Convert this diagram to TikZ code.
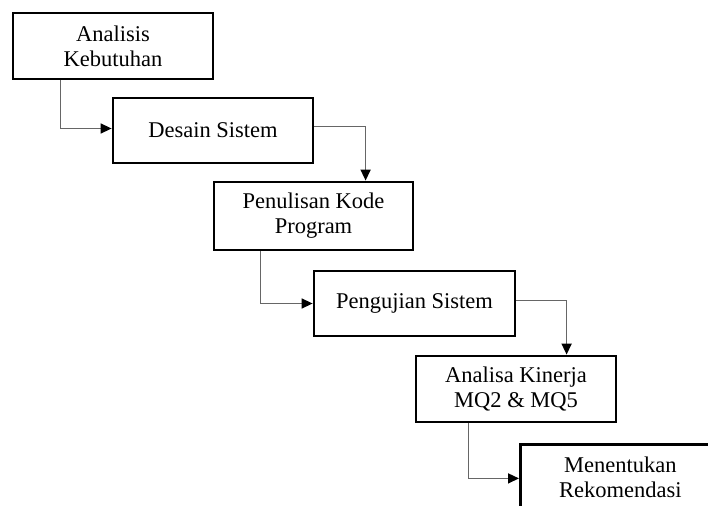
\documentclass[tikz,border=0pt]{standalone}
\usepackage{fontspec}
\setmainfont{Liberation Serif}
\usetikzlibrary{arrows.meta,calc}
\begin{document}
\begin{tikzpicture}[x=1pt,y=-1pt,
  stepbox/.style={draw=black,line width=2.8pt,fill=white,minimum width=200pt,minimum height=66pt,
    inner sep=0pt,align=center,font=\fontsize{22.5}{25}\selectfont},
  conn/.style={draw=black!60,line width=1.5pt,-{Triangle[length=11pt,width=10pt,color=black]}}]
\fill[white] (0,0) rectangle (708,505);
\clip (0,0) rectangle (708,505);
\useasboundingbox (0,0) rectangle (708,505);
\node[stepbox] (b1) at (113,46) {Analisis\\Kebutuhan};
\node[stepbox,minimum height=65pt] (b2) at (213,130.5) {Desain Sistem};
\node[stepbox,minimum width=199pt,minimum height=68pt] (b3) at (313.5,216) {Penulisan Kode\\Program};
\node[stepbox,minimum width=201pt,minimum height=65pt] (b4) at (414.5,303.5) {Pengujian Sistem};
\node[stepbox] (b5) at (516,389) {Analisa Kinerja\\MQ2 \& MQ5};
\node[stepbox,anchor=north west,text width=196pt,minimum height=66pt] (b6) at (519,443) {Menentukan\\Rekomendasi};
\coordinate (s1) at ($(b1.south west)+(49,0)$);
\coordinate (e2) at ($(b3.north west)+(153,0)$);
\coordinate (s3) at ($(b3.south west)+(48,0)$);
\coordinate (e4) at ($(b5.north west)+(152,0)$);
\coordinate (s5) at ($(b5.south west)+(54,0)$);
\draw[conn] (s1) |- ($(b2.west)+(0,-2)$);
\draw[conn] ($(b2.east)+(0,-4)$) -| (e2);
\draw[conn] (s3) |- (b4.west);
\draw[conn] ($(b4.east)+(0,-3)$) -| (e4);
\draw[conn] (s5) |- ($(b6.west)+(0,1)$);
\end{tikzpicture}
\end{document}
